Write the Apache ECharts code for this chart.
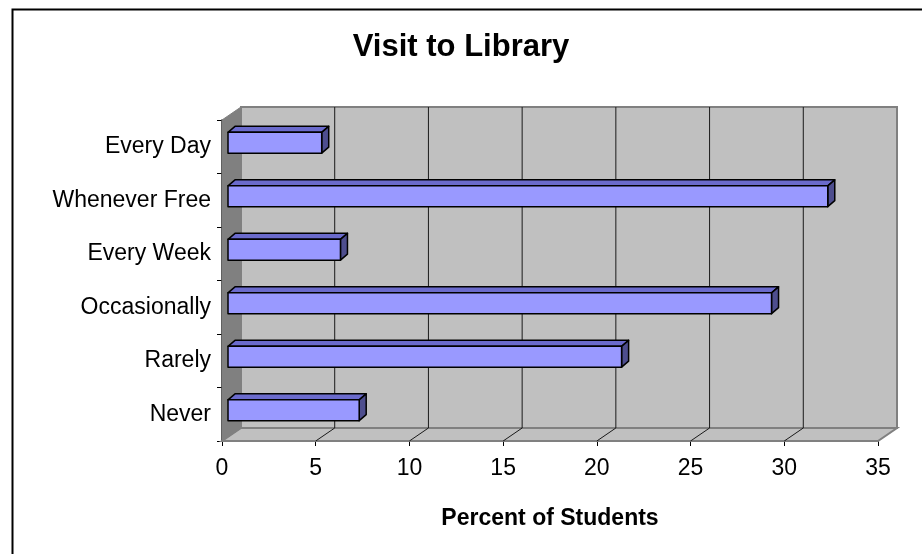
<!DOCTYPE html>
<html>
<head>
<meta charset="utf-8">
<script src="https://cdn.jsdelivr.net/npm/echarts@6/dist/echarts.min.js"></script>
<style>
html,body{margin:0;padding:0;background:#fff;}
#chart{width:922px;height:554px;}
</style>
</head>
<body>
<div id="chart"></div>
<script>
const categories = ["Every Day", "Whenever Free", "Every Week", "Occasionally", "Rarely", "Never"];
const values = [5, 32, 6, 29, 21, 7];
const xTicks = [0, 5, 10, 15, 20, 25, 30, 35];
const titleText = "Visit to Library";
const xTitle = "Percent of Students";

const FONT = "'Liberation Sans', Arial, sans-serif";
const WALL_DX = 19, WALL_DY = -13;

function renderWalls(params, api) {
  const cs = params.coordSys;
  const L = cs.x, T = cs.y, R = cs.x + cs.width, B = cs.y + cs.height;
  const children = [];
  children.push({type: 'rect', shape: {x: L + WALL_DX, y: T + WALL_DY, width: R - L, height: B - T},
    style: {fill: '#C0C0C0', stroke: '#808080', lineWidth: 2}});
  children.push({type: 'polygon', shape: {points: [[L, B], [R, B], [R + WALL_DX, B + WALL_DY], [L + WALL_DX, B + WALL_DY]]},
    style: {fill: '#C0C0C0', stroke: '#808080', lineWidth: 2}});
  children.push({type: 'polygon', shape: {points: [[L, B], [L, T], [L + WALL_DX, T + WALL_DY], [L + WALL_DX, B + WALL_DY]]},
    style: {fill: '#808080', stroke: '#808080', lineWidth: 1}});
  xTicks.forEach(function (t) {
    if (t === xTicks[0] || t === xTicks[xTicks.length - 1]) return;
    const x = api.coord([t, 0])[0];
    children.push({type: 'line', shape: {x1: x + WALL_DX, y1: T + WALL_DY, x2: x + WALL_DX, y2: B + WALL_DY},
      style: {stroke: '#1a1a1a', lineWidth: 1}});
    children.push({type: 'line', shape: {x1: x, y1: B, x2: x + WALL_DX, y2: B + WALL_DY},
      style: {stroke: '#1a1a1a', lineWidth: 1}});
  });
  return {type: 'group', children: children};
}

function renderBar(params, api) {
  const v = api.value(0), c = api.value(1);
  const p0 = api.coord([0, c]);
  const p1 = api.coord([v, c]);
  const band = api.size([0, 1])[1];
  const h = band * 0.39;
  const sx = 6, sy = -4;
  const dx = 7, dy = -6;
  const x0 = p0[0] + sx, x1 = p1[0] + sx;
  const yc = p0[1] + sy;
  const yt = yc - h / 2, yb = yc + h / 2;
  const st = {stroke: '#000', lineWidth: 1.5, lineJoin: 'round'};
  return {type: 'group', children: [
    {type: 'polygon', shape: {points: [[x0, yt], [x0 + dx, yt + dy], [x1 + dx, yt + dy], [x1, yt]]},
      style: Object.assign({fill: '#6B6BCC'}, st)},
    {type: 'polygon', shape: {points: [[x1, yt], [x1 + dx, yt + dy], [x1 + dx, yb + dy], [x1, yb]]},
      style: Object.assign({fill: '#4E4E8E'}, st)},
    {type: 'rect', shape: {x: x0, y: yt, width: x1 - x0, height: yb - yt},
      style: Object.assign({fill: '#9999FF'}, st)}
  ]};
}

const chart = echarts.init(document.getElementById('chart'), null, {renderer: 'canvas'});
chart.setOption({
  animation: false,
  backgroundColor: '#fff',
  title: {
    text: titleText, left: 'center', top: 32, padding: 0,
    textStyle: {fontFamily: FONT, fontSize: 31, fontWeight: 'bold', color: '#000'}
  },
  graphic: [{
    type: 'rect', left: 10, top: 7, z: 100,
    shape: {width: 1000, height: 1000},
    style: {fill: null, stroke: '#000', lineWidth: 2}
  }],
  grid: {left: 222, right: 44, top: 120, bottom: 113},
  xAxis: {
    type: 'value', min: xTicks[0], max: xTicks[xTicks.length - 1], interval: 5,
    name: xTitle, nameLocation: 'middle', nameGap: 66,
    nameTextStyle: {fontFamily: FONT, fontSize: 23, fontWeight: 'bold', color: '#000'},
    axisLine: {show: true, lineStyle: {color: '#000', width: 1.5}},
    axisTick: {show: true, length: 5, lineStyle: {color: '#000'}},
    axisLabel: {fontFamily: FONT, fontSize: 23, color: '#000', margin: 16},
    splitLine: {show: false}
  },
  yAxis: {
    type: 'category', data: categories, inverse: true,
    axisLine: {show: true, lineStyle: {color: '#000', width: 1.5}},
    axisTick: {show: true, length: 5, lineStyle: {color: '#000'}},
    axisLabel: {fontFamily: FONT, fontSize: 23, color: '#000', margin: 11},
    splitLine: {show: false}
  },
  series: [
    {type: 'custom', renderItem: renderWalls, data: [[0, 0]], z: 1, silent: true},
    {type: 'custom', renderItem: renderBar, z: 5,
      data: categories.map(function (c, i) { return [values[i], i]; }),
      encode: {x: 0, y: 1}}
  ]
});
</script>
</body>
</html>
